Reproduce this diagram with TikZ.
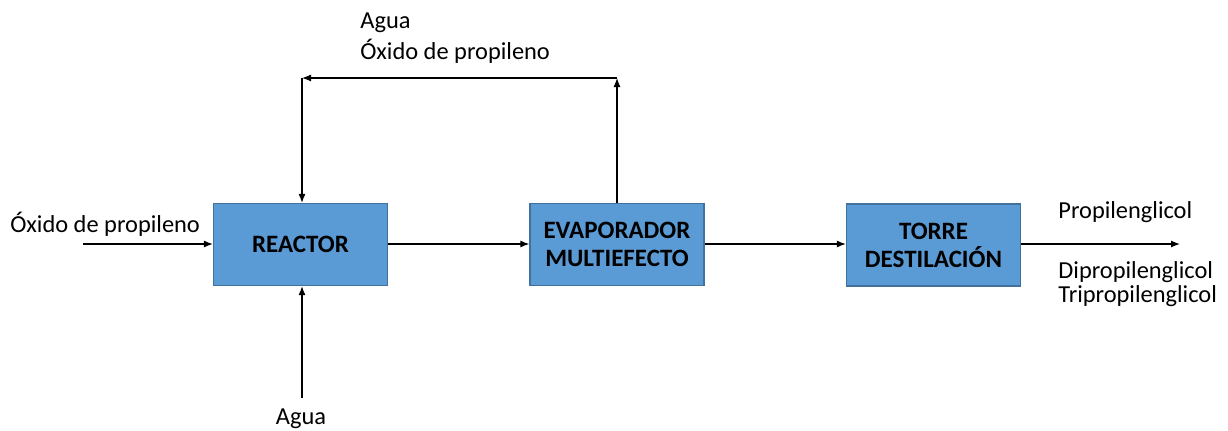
\documentclass[tikz,border=0pt]{standalone}
\usepackage{fontspec}
\setmainfont{Carlito}
\usetikzlibrary{arrows.meta}
\definecolor{boxfill}{HTML}{5B9BD5}
\definecolor{boxline}{HTML}{41719C}
\tikzset{
  unit/.style={draw=boxline, fill=boxfill, line width=0.6pt, minimum width=87pt,
    minimum height=41pt, align=center, inner sep=0pt,
    font=\fontsize{12.5}{14}\selectfont\bfseries},
  flow/.style={-{Latex[length=4.5pt,width=3.5pt]}, line width=0.6pt},
  lbl/.style={anchor=base west, inner sep=0pt, font=\fontsize{12.2}{14}\selectfont},
}
\begin{document}
\begin{tikzpicture}[x=0.5pt,y=-0.5pt]
            \useasboundingbox (0,0) rectangle (1228,430);
            \node[unit] (reactor) at (300.5,244.5) {REACTOR};
            \node[unit] (evap) at (617,244.5) {EVAPORADOR\\MULTIEFECTO};
            \node[unit] (torre) at (933.5,245) {TORRE\\DESTILACIÓN};
            \coordinate (feed) at (83,244);
            \coordinate (prod) at (1180,244);
            \coordinate (water) at (302,398);
            \coordinate (up) at (617,78);
            \coordinate (back) at (302,78);
            \node[lbl] (l1) at (10,232) {Óxido de propileno};
            \node[lbl, anchor=base] (l2) at (301,424) {Agua};
            \node[lbl] (l3) at (360,28) {Agua};
            \node[lbl] (l4) at (360,59) {Óxido de propileno};
            \node[lbl] (l5) at (1058,218) {Propilenglicol};
            \node[lbl] (l6) at (1058,278) {Dipropilenglicol};
            \node[lbl] (l7) at (1058,302) {Tripropilenglicol};
            \draw[flow] (feed) -- (reactor.west |- feed);
            \draw[flow] (water) -- (water |- reactor.south);
            \draw[flow] (reactor.east |- feed) -- (evap.west |- feed);
            \draw[flow] (evap.east |- feed) -- (torre.west |- feed);
            \draw[flow] (torre.east |- prod) -- (prod);
            \draw[flow] (evap.north) -- (up);
            \draw[flow] (up) -- (back);
            \draw[flow] (back) -- (back |- reactor.north);
        \end{tikzpicture}
\end{document}
